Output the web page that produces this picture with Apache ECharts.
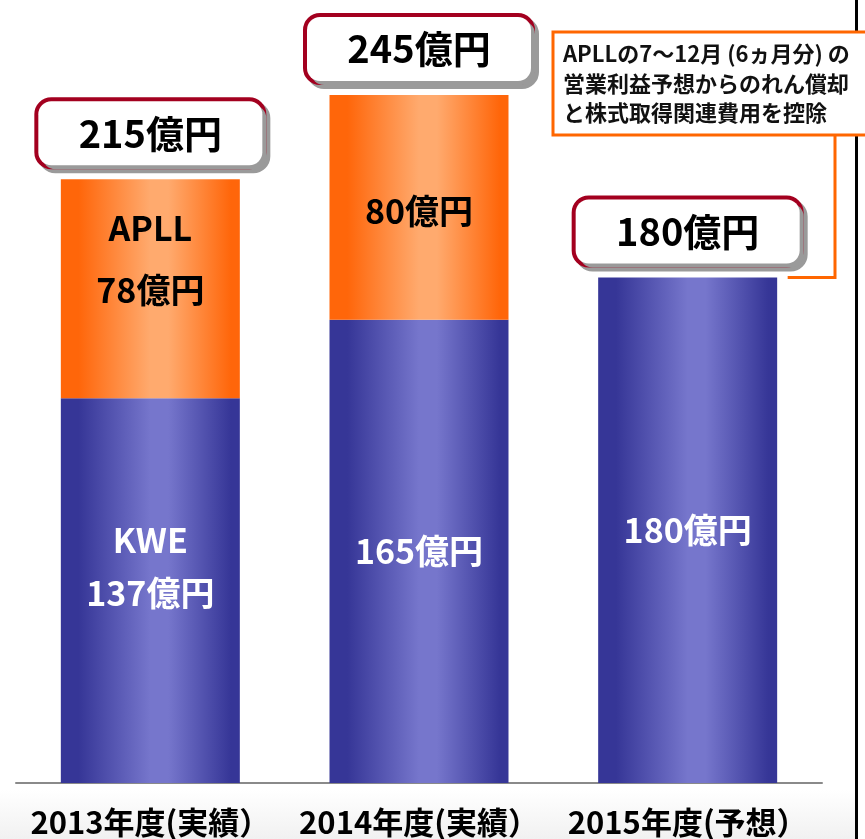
<!DOCTYPE html>
<html>
<head>
<meta charset="utf-8">
<script src="https://cdn.jsdelivr.net/npm/echarts@6/dist/echarts.min.js"></script>
<style>
  html, body { margin: 0; padding: 0; background: #fff; }
  #chart { width: 865px; height: 839px; }
</style>
</head>
<body>
<div id="chart"></div>
<script>
// 年度ごとの営業利益（億円）
var years = ['2013年度(実績）', '2014年度(実績）', '2015年度(予想）'];
var kweValues = [137, 165, 180];
var apllValues = [78, 80, 0];
var totals = [215, 245, 180];
var kweLabels = ['KWE\n137億円', '165億円', '180億円'];
var apllLabels = ['APLL\n78億円', '80億円', ''];
var noteLines = ['APLLの7～12月 (6ヵ月分) の', '営業利益予想からのれん償却', 'と株式取得関連費用を控除'];

var FONT = '"Noto Sans CJK JP", "Noto Sans", sans-serif';

var chart = echarts.init(document.getElementById('chart'));

function grad(edge, mid) {
    return new echarts.graphic.LinearGradient(0, 0, 1, 0, [
        { offset: 0, color: edge },
        { offset: 0.1, color: edge },
        { offset: 0.5, color: mid },
        { offset: 0.6, color: mid },
        { offset: 0.95, color: edge },
        { offset: 1, color: edge }
    ]);
}
var blueGrad = grad('#363697', '#7676cc');
var orangeGrad = grad('#ff660a', '#ffaa6e');

var kweData = kweValues.map(function (v, i) {
    var item = { value: v };
    if (i === 0) {
        item.label = { position: ['50%', 168], lineHeight: 53 };
    }
    return item;
});
var apllData = apllValues.map(function (v, i) {
    var item = { value: v };
    if (i === 0) {
        item.label = { position: ['50%', 80], lineHeight: 62 };
    } else if (i === 1) {
        item.label = { position: ['50%', 116] };
    } else {
        item.label = { show: false };
    }
    return item;
});

chart.setOption({
    animation: false,
    backgroundColor: '#fff',
    grid: { left: 16, right: 43, top: 81, bottom: 56 },
    xAxis: {
        type: 'category',
        data: years,
        axisLine: { lineStyle: { color: '#8a8a8a', width: 2 } },
        axisTick: { inside: true, length: 8, lineStyle: { color: '#8a8a8a', width: 2 } },
        axisLabel: {
            interval: 0,
            hideOverlap: false,
            color: '#000', fontSize: 31, fontWeight: 'bold', fontFamily: FONT, margin: 24
        }
    },
    yAxis: { type: 'value', min: 0, max: 250, show: false },
    series: [
        {
            name: 'KWE',
            type: 'bar',
            stack: 'total',
            barWidth: 179,
            data: kweData,
            itemStyle: { color: blueGrad },
            label: {
                show: true,
                position: 'inside',
                align: 'center',
                verticalAlign: 'middle',
                color: '#fff',
                fontSize: 34,
                fontWeight: 'bold',
                fontFamily: FONT,
                formatter: function (p) { return kweLabels[p.dataIndex]; }
            }
        },
        {
            name: 'APLL',
            type: 'bar',
            stack: 'total',
            barWidth: 179,
            data: apllData,
            itemStyle: { color: orangeGrad },
            label: {
                show: true,
                align: 'center',
                verticalAlign: 'middle',
                color: '#000',
                fontSize: 34,
                fontWeight: 'bold',
                fontFamily: FONT,
                formatter: function (p) { return apllLabels[p.dataIndex]; }
            }
        },
        {
            name: '合計',
            type: 'bar',
            stack: 'total',
            barWidth: 179,
            data: totals.map(function () { return 0; }),
            itemStyle: { color: 'transparent' },
            label: {
                show: true,
                position: 'top',
                distance: 14,
                color: '#000',
                fontSize: 38,
                fontWeight: 'bold',
                fontFamily: FONT,
                width: 224,
                height: 64,
                lineHeight: 64,
                align: 'center',
                backgroundColor: '#fff',
                borderColor: '#a3001f',
                borderWidth: 4,
                borderRadius: 13,
                shadowColor: '#9a9a9a',
                shadowOffsetX: 4,
                shadowOffsetY: 4,
                shadowBlur: 0,
                formatter: function (p) { return totals[p.dataIndex] + '億円'; }
            }
        }
    ]
});

// 注記ボックスと引き出し線
var top3 = chart.convertToPixel({ gridIndex: 0 }, [2, totals[2]]);
chart.setOption({
    graphic: [
        {
            type: 'rect', z: 0, silent: true,
            shape: { x: 0, y: 790, width: 855, height: 49 },
            style: {
                fill: new echarts.graphic.LinearGradient(0, 0, 0, 1, [
                    { offset: 0, color: '#ffffff' },
                    { offset: 1, color: '#f1f1f1' }
                ])
            }
        },
        {
            type: 'rect', z: 5, silent: true,
            shape: { x: 855, y: 0, width: 3, height: 839 },
            style: { fill: '#000' }
        },
        {
            type: 'polyline', z: 5,
            shape: { points: [[835, 135], [835, top3[1]], [top3[0] + 100, top3[1]]] },
            style: { stroke: '#ff6600', lineWidth: 3, fill: null }
        },
        {
            type: 'rect', z: 10,
            shape: { x: 553, y: 32, width: 330, height: 103 },
            style: { fill: '#fff', stroke: '#ff6600', lineWidth: 3 }
        },
        {
            type: 'text', z: 11,
            x: 563, y: 39,
            style: {
                text: noteLines.join('\n'),
                fill: '#111',
                font: 'bold 22px ' + FONT,
                lineHeight: 29.5
            }
        }
    ]
});
</script>
</body>
</html>
